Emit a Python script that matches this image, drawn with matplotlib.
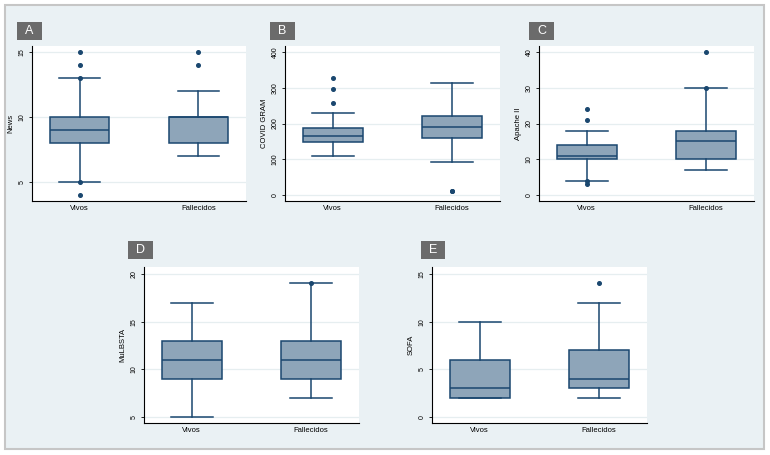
import matplotlib
matplotlib.use('Agg')
import matplotlib.pyplot as plt
from matplotlib.patches import Rectangle

plt.rcParams['font.family'] = ['Liberation Sans', 'DejaVu Sans']

# ── Data ──────────────────────────────────────
groups = ['Vivos', 'Fallecidos']

news_q1, news_med, news_q3 = [8, 8], [9, 10], [10, 10]
news_lo, news_hi = [5, 7], [13, 12]
news_fliers = [[15, 14, 13, 5, 4], [15, 14]]

gram_q1, gram_med, gram_q3 = [148, 160], [165, 190], [187, 221]
gram_lo, gram_hi = [109, 92], [228, 313]
gram_fliers = [[258, 296, 328], [12, 10]]

apache_q1, apache_med, apache_q3 = [10, 10], [11, 15], [14, 18]
apache_lo, apache_hi = [4, 7], [18, 30]
apache_fliers = [[24, 21, 4, 3], [40, 30]]

mulbsta_q1, mulbsta_med, mulbsta_q3 = [9, 9], [11, 11], [13, 13]
mulbsta_lo, mulbsta_hi = [5, 7], [17, 19]
mulbsta_fliers = [[], [19]]

sofa_q1, sofa_med, sofa_q3 = [2, 3], [3, 4], [6, 7]
sofa_lo, sofa_hi = [2, 2], [10, 12]
sofa_fliers = [[], [14]]

NAVY = '#1a476f'
FILL = '#8ea5b9'
BG = '#eaf1f4'
GRID = '#e6eef0'

W, H = 770, 455


def rect(l, t, r, b):
    return [l / W, 1 - b / H, (r - l) / W, (b - t) / H]


def make_stats(q1, med, q3, lo, hi, fliers):
    out = []
    for i in range(len(groups)):
        out.append(dict(q1=q1[i], med=med[i], q3=q3[i], whislo=lo[i],
                        whishi=hi[i], fliers=fliers[i], label=groups[i]))
    return out


def panel(fig, box, label_box, letter, stats, ylim, yticks, ylabel):
    ax = fig.add_axes(rect(*box))
    ax.set_zorder(2)
    ax.set_facecolor('white')
    ax.bxp(stats, positions=[1, 2], widths=0.5, patch_artist=True,
           showcaps=True, capwidths=0.35,
           boxprops=dict(facecolor=FILL, edgecolor=NAVY, linewidth=1.1),
           medianprops=dict(color=NAVY, linewidth=1.1),
           whiskerprops=dict(color=NAVY, linewidth=1.1),
           capprops=dict(color=NAVY, linewidth=1.1),
           flierprops=dict(marker='o', markerfacecolor=NAVY, markeredgecolor=NAVY,
                           markersize=2.6, linestyle='none'))
    ax.set_xlim(0.6, 2.4)
    ax.set_ylim(*ylim)
    ax.set_yticks(yticks)
    ax.set_yticklabels([str(t) for t in yticks], rotation=90, va='center', fontsize=5)
    ax.set_xticks([1, 2])
    ax.set_xticklabels(groups, fontsize=5.5)
    ax.tick_params(axis='x', length=0, pad=3)
    ax.tick_params(axis='y', length=2.5, width=0.6, pad=2)
    ax.set_ylabel(ylabel, fontsize=5.5, labelpad=3)
    ax.yaxis.grid(True, color=GRID, linewidth=0.9)
    ax.set_axisbelow(True)
    for s in ['top', 'right']:
        ax.spines[s].set_visible(False)
    for s in ['left', 'bottom']:
        ax.spines[s].set_linewidth(0.8)

    l, t, r, b = label_box
    fig.patches.append(Rectangle((l / W, 1 - b / H), (r - l) / W, (b - t) / H,
                                 transform=fig.transFigure, facecolor='#6b6b6b',
                                 edgecolor='none', zorder=3))
    fig.text((l + r) / 2 / W, 1 - (t + b) / 2 / H, letter, color='white',
             fontsize=9, ha='center', va='center', zorder=4)
    return ax


fig = plt.figure(figsize=(W / 100, H / 100), dpi=100, facecolor='white')
fig.patches.append(Rectangle((5 / W, 1 - 449 / H), 759 / W, 444 / H,
                             transform=fig.transFigure, facecolor=BG,
                             edgecolor='#c6c6c6', linewidth=1.5, zorder=-5))

panel(fig, (32, 46, 246, 201), (17, 22, 42, 40), 'A',
      make_stats(news_q1, news_med, news_q3, news_lo, news_hi, news_fliers),
      (3.54, 15.46), [5, 10, 15], 'News')
panel(fig, (285, 46, 500, 201), (270, 22, 295, 40), 'B',
      make_stats(gram_q1, gram_med, gram_q3, gram_lo, gram_hi, gram_fliers),
      (-16.8, 416.8), [0, 100, 200, 300, 400], 'COVID GRAM')
panel(fig, (539, 46, 754, 201), (529, 22, 554, 40), 'C',
      make_stats(apache_q1, apache_med, apache_q3, apache_lo, apache_hi, apache_fliers),
      (-1.68, 41.68), [0, 10, 20, 30, 40], 'Apache II')
panel(fig, (144, 267, 359, 423), (128, 241, 153, 259), 'D',
      make_stats(mulbsta_q1, mulbsta_med, mulbsta_q3, mulbsta_lo, mulbsta_hi, mulbsta_fliers),
      (4.37, 20.73), [5, 10, 15, 20], 'MuLBSTA')
panel(fig, (432, 267, 647, 423), (421, 241, 445, 259), 'E',
      make_stats(sofa_q1, sofa_med, sofa_q3, sofa_lo, sofa_hi, sofa_fliers),
      (-0.63, 15.73), [0, 5, 10, 15], 'SOFA')

fig.savefig('out.png', dpi=100, facecolor='white')
